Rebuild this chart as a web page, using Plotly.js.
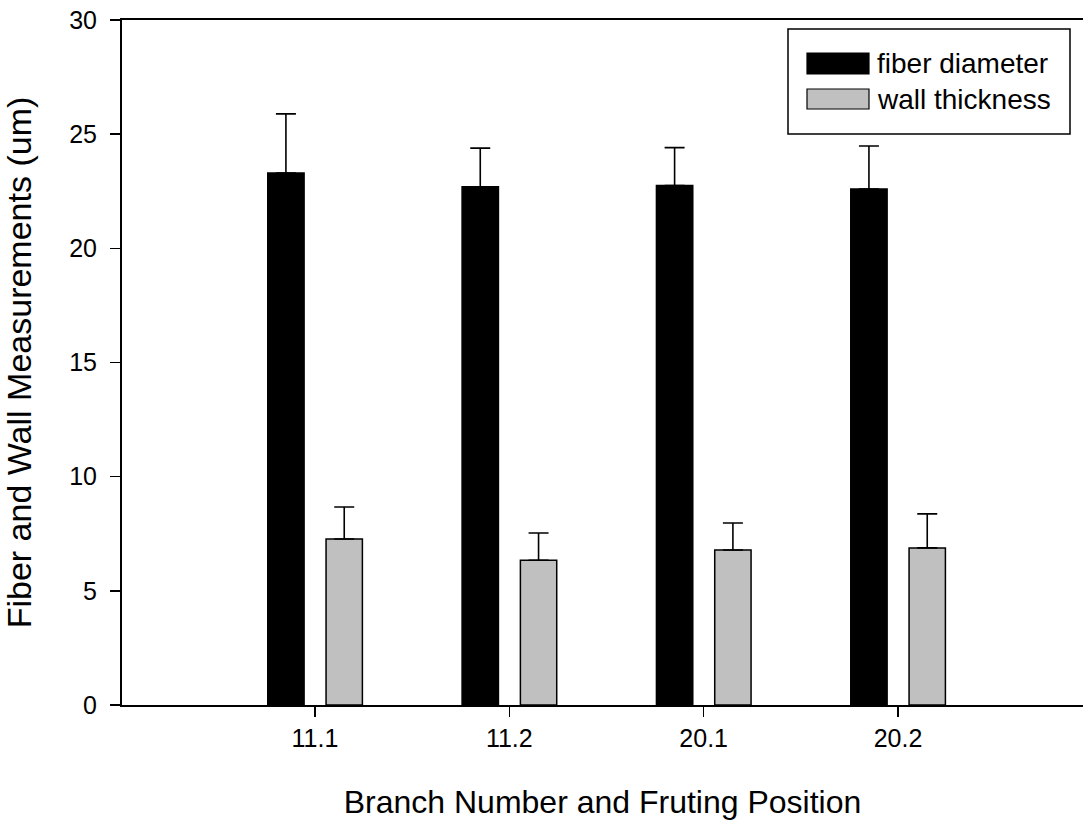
<!DOCTYPE html>
<html>
<head>
<meta charset="utf-8">
<script src="https://cdn.plot.ly/plotly-3.0.1.min.js"></script>
<style>html,body{margin:0;padding:0;background:#fff;}#chart{width:1083px;height:823px;}</style>
</head>
<body>
<div id="chart"></div>
<script>
const categories = ['11.1', '11.2', '20.1', '20.2'];
const fiberDiameter = [23.3, 22.7, 22.75, 22.6];
const fiberDiameterErr = [2.59, 1.69, 1.66, 1.88];
const wallThickness = [7.27, 6.34, 6.79, 6.88];
const wallThicknessErr = [1.4, 1.19, 1.18, 1.49];
const seriesNames = ['fiber diameter', 'wall thickness'];
const yTicks = [0, 5, 10, 15, 20, 25, 30];

const W = 1083, H = 823;
const L = 122, R = 0, T = 20, B = 118;
const pw = W - L - R, ph = H - T - B;
const px = x => (x - L) / pw;
const py = y => (H - B - y) / ph;

const FONT = 'Arial, "Liberation Sans", sans-serif';

const traces = [
  {
    type: 'bar', name: seriesNames[0], x: categories, y: fiberDiameter,
    width: 0.187, offset: -0.243,
    marker: {color: '#000000', line: {color: '#000000', width: 1.5}},
    error_y: {type: 'data', array: fiberDiameterErr, arrayminus: fiberDiameter.map(() => 0), symmetric: false, color: '#000000', thickness: 1.6, width: 10}
  },
  {
    type: 'bar', name: seriesNames[1], x: categories, y: wallThickness,
    width: 0.187, offset: 0.057,
    marker: {color: '#c0c0c0', line: {color: '#000000', width: 1.5}},
    error_y: {type: 'data', array: wallThicknessErr, arrayminus: wallThickness.map(() => 0), symmetric: false, color: '#000000', thickness: 1.6, width: 10}
  }
];

const shapes = [
  {type: 'rect', xref: 'paper', yref: 'paper', x0: px(788), x1: px(1070), y0: py(29), y1: py(134), line: {color: '#000', width: 1.5}, fillcolor: '#fff'},
  {type: 'rect', xref: 'paper', yref: 'paper', x0: px(807), x1: px(869), y0: py(53), y1: py(74), line: {color: '#000', width: 1.2}, fillcolor: '#000'},
  {type: 'rect', xref: 'paper', yref: 'paper', x0: px(807), x1: px(869), y0: py(89), y1: py(109), line: {color: '#000', width: 1.2}, fillcolor: '#c0c0c0'}
];
const annotations = [
  {xref: 'paper', yref: 'paper', x: px(875), y: py(64), xanchor: 'left', yanchor: 'middle', text: seriesNames[0], showarrow: false, font: {family: FONT, size: 28, color: '#000'}},
  {xref: 'paper', yref: 'paper', x: px(875), y: py(99), xanchor: 'left', yanchor: 'middle', text: seriesNames[1], showarrow: false, font: {family: FONT, size: 28, color: '#000'}}
];

const layout = {
  width: W, height: H,
  margin: {l: L, r: R, t: T, b: B, pad: 0},
  paper_bgcolor: '#fff', plot_bgcolor: '#fff',
  showlegend: false,
  font: {family: FONT, color: '#000'},
  xaxis: {
    type: 'category', range: [-0.993, 3.952],
    showline: true, linecolor: '#000', linewidth: 2, mirror: true,
    ticks: 'outside', ticklen: 10, tickwidth: 1.5, tickcolor: '#000',
    showgrid: false, zeroline: false,
    tickfont: {family: FONT, size: 25},
    title: {text: 'Branch Number and Fruting Position', font: {family: FONT, size: 32}, standoff: 40},
    automargin: false
  },
  yaxis: {
    range: [0, 30], tickvals: yTicks,
    showline: true, linecolor: '#000', linewidth: 2,
    ticks: 'outside', ticklen: 10, tickwidth: 1.5, tickcolor: '#000',
    ticklabelstandoff: 8,
    showgrid: false, zeroline: false,
    tickfont: {family: FONT, size: 25},
    title: {text: 'Fiber and Wall Measurements (um)', font: {family: FONT, size: 34}, standoff: 30},
    automargin: false
  },
  shapes: shapes,
  annotations: annotations
};

Plotly.newPlot('chart', traces, layout, {displayModeBar: false, staticPlot: true});
</script>
</body>
</html>
